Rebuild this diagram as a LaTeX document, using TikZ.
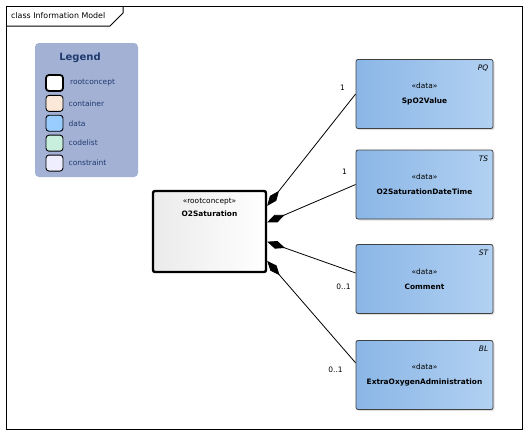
\documentclass[tikz,border=0pt]{standalone}
\usepackage{fontspec}
\setmainfont{DejaVu Sans}
\usetikzlibrary{arrows.meta}
\usetikzlibrary{positioning}
\usetikzlibrary{shadows}
\definecolor{legendfill}{HTML}{A3B1D5}
\definecolor{legendtext}{HTML}{1F3A6E}
\definecolor{dataleft}{HTML}{8AB6E6}
\definecolor{dataright}{HTML}{B2D1F2}
\definecolor{containerfill}{HTML}{FCE8D8}
\definecolor{datafill}{HTML}{99CCFF}
\definecolor{codelistfill}{HTML}{C8EEDD}
\definecolor{constraintfill}{HTML}{EEEEFF}
\newcommand{\smallfont}{\fontsize{7.5}{9}\selectfont}
\tikzset{x = 1pt, y = -1pt,
  every node/.style = {font = \smallfont, inner sep = 0pt},
  datacls/.style = {draw = black!75, rounded corners = 2pt, line width = 0.8pt,
    minimum width = 137pt, minimum height = 69pt, align = center,
    font = \fontsize{7.4}{15}\selectfont,
    left color = dataleft, right color = dataright,
    drop shadow = {shadow xshift = 1.5pt, shadow yshift = -1.5pt, opacity = 0.25}},
  rootcls/.style = {draw = black, rounded corners = 2pt, line width = 2.4pt,
    minimum width = 113pt, minimum height = 81pt,
    left color = black!8, right color = white},
  swatch/.style = {draw = black, rounded corners = 3pt, line width = 0.9pt,
    minimum width = 17pt, minimum height = 16pt},
  legitem/.style = {right = 5pt of #1, text = legendtext},
  tag/.style = {anchor = north east, xshift = -5pt, yshift = -6pt, font = \smallfont\itshape},
  comp/.style = {line width = 0.8pt, -{Diamond[length = 19pt, width = 8pt]}},
  mult/.style = {font = \smallfont}}
\begin{document}
\begin{tikzpicture}
  \useasboundingbox (0,0) rectangle (528,440);
  % frame
  \draw [line width = 1pt] (6,6) rectangle (522,429);
  \draw [line width = 1pt] (6,26) -- (110,26) -- (123,13) -- (123,6);
  \node (title) [anchor = west, font = \fontsize{7.9}{9}\selectfont] at (11,16) {class Information Model};
  % legend
  \node (legend) [fill = legendfill, rounded corners = 4pt, minimum width = 103pt, minimum height = 134pt] at (86.5,110) {};
  \node (legtitle) [font = \fontsize{10}{11}\selectfont\bfseries, text = legendtext] at (80,58) {Legend};
  \node (s1) [swatch, fill = white, line width = 1.8pt] at (54.5,83) {};
  \node (s2) [swatch, fill = containerfill, below = 3pt of s1] {};
  \node (s3) [swatch, fill = datafill, below = 3pt of s2] {};
  \node (s4) [swatch, fill = codelistfill, below = 3pt of s3] {};
  \node (s5) [swatch, fill = constraintfill, below = 3pt of s4] {};
  \node (l1) [legitem = s1, xshift = 1pt] {rootconcept};
  \node (l2) [legitem = s2] {container};
  \node (l3) [legitem = s3] {data};
  \node (l4) [legitem = s4] {codelist};
  \node (l5) [legitem = s5] {constraint};
  % classes
  \node (root) [rootcls, label = {[anchor = north, yshift = -8pt, align = center, font = \fontsize{7.4}{13}\selectfont]north:«rootconcept»\\\textbf{O2Saturation}}] at (209.5,231.5) {};
  \node (spo2) [datacls, label = {[tag]north east:PQ}] at (424.5,94) {«data»\\\textbf{SpO2Value}};
  \node (datetime) [datacls, label = {[tag]north east:TS}] at (424.5,184.5) {«data»\\\textbf{O2SaturationDateTime}};
  \node (comment) [datacls, label = {[tag]north east:ST}] at (424.5,279) {«data»\\\textbf{Comment}};
  \node (extra) [datacls, label = {[tag]north east:BL}] at (424.5,375) {«data»\\\textbf{ExtraOxygenAdministration}};
  % edges
  \draw [comp] (spo2.west) -- node [mult, pos = 0, xshift = -13pt, yshift = 6pt] {1} (root.24);
  \draw [comp] (datetime.west) -- node [mult, pos = 0, xshift = -11pt, yshift = 13pt] {1} (root.9);
  \draw [comp] (comment.175) -- node [mult, pos = 0, xshift = -12pt, yshift = -14pt] {0..1} (root.-10);
  \draw [comp] (extra.170) -- node [mult, pos = 0, xshift = -20pt, yshift = -7pt] {0..1} (root.-27);
\end{tikzpicture}
\end{document}
